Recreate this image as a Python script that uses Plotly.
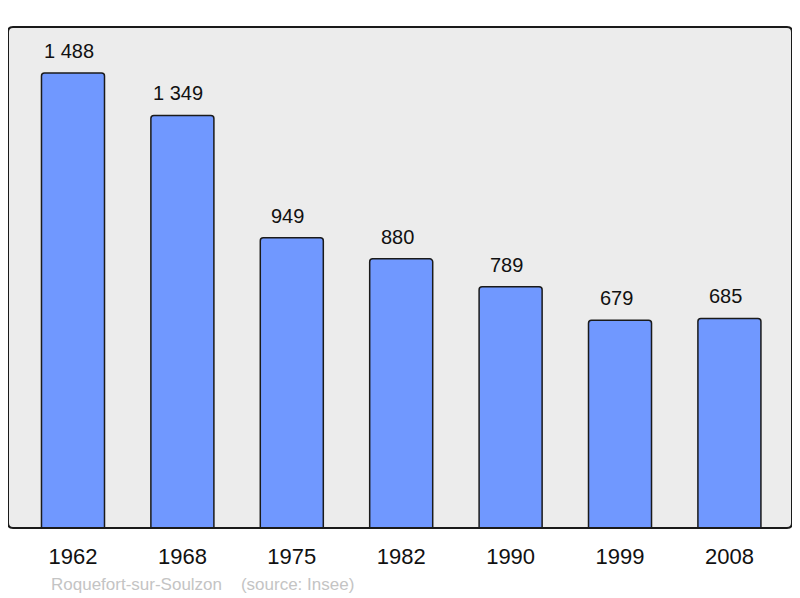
import plotly.graph_objects as go

years = ["1962", "1968", "1975", "1982", "1990", "1999", "2008"]
population = [1488, 1349, 949, 880, 789, 679, 685]
footer_text = "Roquefort-sur-Soulzon    (source: Insee)"

def fmt(v):
    return f"{v:,}".replace(",", " ")

FONT = "Liberation Sans, Arial, sans-serif"

fig = go.Figure()
fig.add_trace(go.Bar(
    x=years, y=population,
    width=0.576,
    marker=dict(color="#7098ff", line=dict(color="#1a1a1a", width=1.5), cornerradius=3),
    hoverinfo="skip",
))

for i, v in enumerate(population):
    fig.add_annotation(x=i, y=v, text=fmt(v), showarrow=False,
                       yanchor="bottom", yshift=9, xshift=-4,
                       font=dict(family=FONT, size=20, color="#111"))

fig.add_annotation(xref="paper", yref="paper", x=(49-8)/784, y=-(584-528)/501,
                   xanchor="left", yanchor="middle", showarrow=False,
                   text=footer_text,
                   font=dict(family=FONT, size=17, color="#c4c4c4"))

# rounded frame around plot area
rx, ry = 5/784, 5/501
path = (f"M {rx},0 L {1-rx},0 Q 1,0 1,{ry} L 1,{1-ry} Q 1,1 {1-rx},1 "
        f"L {rx},1 Q 0,1 0,{1-ry} L 0,{ry} Q 0,0 {rx},0 Z")
fig.add_shape(type="path", xref="paper", yref="paper", path=path,
              line=dict(color="#1a1a1a", width=2), layer="above")

fig.update_layout(
    width=792, height=590,
    margin=dict(l=0, r=8, t=19, b=70),
    paper_bgcolor="white",
    plot_bgcolor="#ececec",
    showlegend=False,
    xaxis=dict(type="category", range=[-0.594, 6.572], showgrid=False, zeroline=False,
               ticks="outside", ticklen=9, tickcolor="rgba(0,0,0,0)",
               tickfont=dict(family=FONT, size=22, color="#111")),
    yaxis=dict(range=[0, 1638], showgrid=False, zeroline=False, showticklabels=False, ticks=""),
)

fig.write_html("out.html")
